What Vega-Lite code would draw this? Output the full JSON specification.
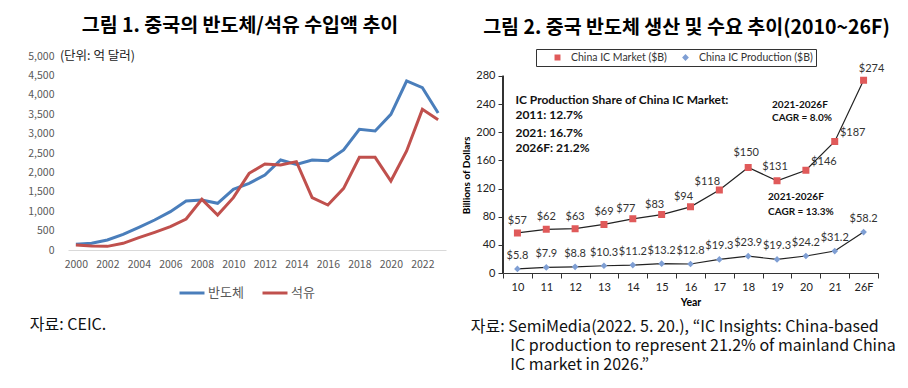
{
  "$schema": "https://vega.github.io/schema/vega-lite/v6.json",
  "background": "white",
  "padding": {"left": 27, "top": 15, "right": 5, "bottom": 5},
  "config": {"view": {"stroke": null}, "font": "Noto Sans CJK KR"},
  "resolve": {"scale": {"color": "independent", "shape": "independent"}, "legend": {"color": "independent", "shape": "independent"}},
  "datasets": {
    "imports": [
      {"year": 2000, "series": "반도체", "value": 146}, {"year": 2001, "series": "반도체", "value": 172},
      {"year": 2002, "series": "반도체", "value": 258}, {"year": 2003, "series": "반도체", "value": 404},
      {"year": 2004, "series": "반도체", "value": 584}, {"year": 2005, "series": "반도체", "value": 773},
      {"year": 2006, "series": "반도체", "value": 988}, {"year": 2007, "series": "반도체", "value": 1263},
      {"year": 2008, "series": "반도체", "value": 1289}, {"year": 2009, "series": "반도체", "value": 1203},
      {"year": 2010, "series": "반도체", "value": 1564}, {"year": 2011, "series": "반도체", "value": 1718},
      {"year": 2012, "series": "반도체", "value": 1933}, {"year": 2013, "series": "반도체", "value": 2320},
      {"year": 2014, "series": "반도체", "value": 2208}, {"year": 2015, "series": "반도체", "value": 2320},
      {"year": 2016, "series": "반도체", "value": 2302}, {"year": 2017, "series": "반도체", "value": 2577},
      {"year": 2018, "series": "반도체", "value": 3110}, {"year": 2019, "series": "반도체", "value": 3067},
      {"year": 2020, "series": "반도체", "value": 3497}, {"year": 2021, "series": "반도체", "value": 4356},
      {"year": 2022, "series": "반도체", "value": 4184}, {"year": 2023, "series": "반도체", "value": 3530},
      {"year": 2000, "series": "석유", "value": 129}, {"year": 2001, "series": "석유", "value": 103},
      {"year": 2002, "series": "석유", "value": 94}, {"year": 2003, "series": "석유", "value": 172},
      {"year": 2004, "series": "석유", "value": 318}, {"year": 2005, "series": "석유", "value": 455},
      {"year": 2006, "series": "석유", "value": 601}, {"year": 2007, "series": "석유", "value": 799},
      {"year": 2008, "series": "석유", "value": 1306}, {"year": 2009, "series": "석유", "value": 902},
      {"year": 2010, "series": "석유", "value": 1349}, {"year": 2011, "series": "석유", "value": 1976},
      {"year": 2012, "series": "석유", "value": 2216}, {"year": 2013, "series": "석유", "value": 2191},
      {"year": 2014, "series": "석유", "value": 2277}, {"year": 2015, "series": "석유", "value": 1349},
      {"year": 2016, "series": "석유", "value": 1160}, {"year": 2017, "series": "석유", "value": 1589},
      {"year": 2018, "series": "석유", "value": 2388}, {"year": 2019, "series": "석유", "value": 2388},
      {"year": 2020, "series": "석유", "value": 1778}, {"year": 2021, "series": "석유", "value": 2552},
      {"year": 2022, "series": "석유", "value": 3625}, {"year": 2023, "series": "석유", "value": 3360}
    ],
    "unit": [{"year": 2000, "value": 5000, "text": "(단위: 억 달러)"}],
    "ic": [
      {"year": "10", "series": "China IC Market ($B)", "value": 57, "label": "$57"},
      {"year": "11", "series": "China IC Market ($B)", "value": 62, "label": "$62"},
      {"year": "12", "series": "China IC Market ($B)", "value": 63, "label": "$63"},
      {"year": "13", "series": "China IC Market ($B)", "value": 69, "label": "$69"},
      {"year": "14", "series": "China IC Market ($B)", "value": 77, "label": "$77"},
      {"year": "15", "series": "China IC Market ($B)", "value": 83, "label": "$83"},
      {"year": "16", "series": "China IC Market ($B)", "value": 94, "label": "$94"},
      {"year": "17", "series": "China IC Market ($B)", "value": 118, "label": "$118"},
      {"year": "18", "series": "China IC Market ($B)", "value": 150, "label": "$150"},
      {"year": "19", "series": "China IC Market ($B)", "value": 131, "label": "$131"},
      {"year": "20", "series": "China IC Market ($B)", "value": 146, "label": "$146"},
      {"year": "21", "series": "China IC Market ($B)", "value": 187, "label": "$187"},
      {"year": "26F", "series": "China IC Market ($B)", "value": 274, "label": "$274"},
      {"year": "10", "series": "China IC Production ($B)", "value": 5.8, "label": "$5.8"},
      {"year": "11", "series": "China IC Production ($B)", "value": 7.9, "label": "$7.9"},
      {"year": "12", "series": "China IC Production ($B)", "value": 8.8, "label": "$8.8"},
      {"year": "13", "series": "China IC Production ($B)", "value": 10.3, "label": "$10.3"},
      {"year": "14", "series": "China IC Production ($B)", "value": 11.2, "label": "$11.2"},
      {"year": "15", "series": "China IC Production ($B)", "value": 13.2, "label": "$13.2"},
      {"year": "16", "series": "China IC Production ($B)", "value": 12.8, "label": "$12.8"},
      {"year": "17", "series": "China IC Production ($B)", "value": 19.3, "label": "$19.3"},
      {"year": "18", "series": "China IC Production ($B)", "value": 23.9, "label": "$23.9"},
      {"year": "19", "series": "China IC Production ($B)", "value": 19.3, "label": "$19.3"},
      {"year": "20", "series": "China IC Production ($B)", "value": 24.2, "label": "$24.2"},
      {"year": "21", "series": "China IC Production ($B)", "value": 31.2, "label": "$31.2"},
      {"year": "26F", "series": "China IC Production ($B)", "value": 58.2, "label": "$58.2"}
    ],
    "notes": [
      {"year": "10", "value": 246, "text": "IC Production Share of China IC Market:", "grp": "share"},
      {"year": "10", "value": 224, "text": "2011: 12.7%", "grp": "share"},
      {"year": "10", "value": 199.4, "text": "2021: 16.7%", "grp": "share"},
      {"year": "10", "value": 177.2, "text": "2026F: 21.2%", "grp": "share"},
      {"year": "19", "value": 238.3, "text": "2021-2026F", "grp": "c1"},
      {"year": "19", "value": 220.7, "text": "CAGR = 8.0%", "grp": "c1"},
      {"year": "19", "value": 108.4, "text": "2021-2026F", "grp": "c2"},
      {"year": "19", "value": 86.7, "text": "CAGR = 13.3%", "grp": "c2"}
    ]
  },
  "spacing": 15,
  "hconcat": [
    {
      "title": {"text": "자료: CEIC.", "orient": "bottom", "anchor": "start", "fontSize": 16, "fontWeight": "normal", "color": "#111", "offset": 17, "dx": 2},
      "vconcat": [
        {
          "title": {"text": "그림 1. 중국의 반도체/석유 수입액 추이", "fontSize": 19.5, "fontWeight": "bold", "color": "#000", "offset": 14, "dx": -17},
          "width": 378,
          "height": 194,
          "encoding": {
            "x": {"field": "year", "type": "quantitative", "scale": {"domain": [1999.5, 2023.5], "nice": false, "zero": false},
              "axis": {"values": [2000, 2002, 2004, 2006, 2008, 2010, 2012, 2014, 2016, 2018, 2020, 2022], "format": "d", "labelOverlap": false, "title": null, "grid": false, "ticks": false, "domainColor": "#d9d9d9", "labelColor": "#595959", "labelFontSize": 10.5, "labelPadding": 9, "labelFlush": false}},
            "y": {"field": "value", "type": "quantitative", "scale": {"domain": [0, 5000], "nice": false},
              "axis": {"values": [0, 500, 1000, 1500, 2000, 2500, 3000, 3500, 4000, 4500, 5000], "format": ",.0f", "labelOverlap": false, "title": null, "grid": false, "ticks": false, "domain": false, "labelColor": "#595959", "labelFontSize": 10.5, "labelPadding": 14}}
          },
          "layer": [
            {
              "data": {"name": "imports"},
              "mark": {"type": "line", "strokeWidth": 3},
              "encoding": {
                "color": {"field": "series", "type": "nominal", "scale": {"domain": ["반도체", "석유"], "range": ["#4a7ebb", "#c0504d"]},
                  "legend": {"title": null, "orient": "none", "legendX": 110, "legendY": 223, "direction": "horizontal", "symbolType": "stroke", "symbolSize": 625, "symbolStrokeWidth": 3, "labelFontSize": 13, "labelColor": "#595959", "columnPadding": 12, "labelOffset": 2}}
              }
            },
            {
              "data": {"name": "unit"},
              "mark": {"type": "text", "align": "left", "dx": -16, "fontSize": 12.5, "color": "#222"},
              "encoding": {"text": {"field": "text"}}
            }
          ]
        }
      ]
    },
    {
      "title": {"text": ["자료: SemiMedia(2022. 5. 20.), “IC Insights: China-based", "\u200b\u00a0\u00a0\u00a0\u00a0\u00a0\u00a0\u00a0\u00a0\u00a0\u00a0\u00a0IC production to represent 21.2% of mainland China", "\u200b\u00a0\u00a0\u00a0\u00a0\u00a0\u00a0\u00a0\u00a0\u00a0\u00a0\u00a0IC market in 2026.”"], "orient": "bottom", "anchor": "start", "fontSize": 16, "lineHeight": 19, "fontWeight": "normal", "color": "#111", "offset": 11, "dx": 9},
      "vconcat": [
        {
          "title": {"text": "그림 2. 중국 반도체 생산 및 수요 추이(2010~26F)", "fontSize": 19.5, "fontWeight": "bold", "color": "#000", "offset": 18, "dx": -4},
          "width": 375,
          "height": 217,
          "data": {"name": "ic"},
          "encoding": {
            "x": {"field": "year", "type": "ordinal", "sort": null, "scale": {"paddingInner": 0, "paddingOuter": 0},
              "axis": {"title": "Year", "titleFont": "Lato", "titleFontSize": 10.5, "titleFontWeight": "bold", "titleColor": "#000", "titlePadding": 5, "labelAngle": 0, "labelFont": "Lato", "labelFontSize": 11, "labelColor": "#222", "tickBand": "extent", "tickSize": 5, "tickColor": "#333", "domainColor": "#333", "labelPadding": 3, "grid": false}},
            "y": {"field": "value", "type": "quantitative", "scale": {"domain": [0, 308.4], "nice": false},
              "axis": {"title": "Billions of Dollars", "titleFont": "Lato", "titleFontSize": 10, "titleFontWeight": "bold", "titleColor": "#000", "titlePadding": 4, "titleY": 119, "values": [0, 40, 80, 120, 160, 200, 240, 280], "labelFont": "Lato", "labelFontSize": 11, "labelColor": "#222", "tickSize": 5, "tickColor": "#333", "domain": false, "labelPadding": 3, "grid": false}}
          },
          "layer": [
            {
              "mark": {"type": "rule", "color": "#333", "strokeWidth": 1},
              "encoding": {
                "x": {"datum": "10", "type": "ordinal", "bandPosition": 0},
                "y": {"datum": 0, "type": "quantitative"},
                "y2": {"datum": 280}
              }
            },
            {
              "mark": {"type": "line", "color": "#222", "strokeWidth": 1.2},
              "encoding": {"detail": {"field": "series"}}
            },
            {
              "transform": [{"filter": {"field": "series", "equal": "China IC Market ($B)"}}],
              "mark": {"type": "point", "filled": true, "opacity": 1, "size": 400},
              "encoding": {
                "color": {"field": "series", "type": "nominal", "scale": {"domain": ["China IC Market ($B)", "China IC Production ($B)"], "range": ["#e05a5a", "#7f9fd4"]},
                  "legend": {"title": null, "orient": "none", "legendX": 33, "legendY": -7, "direction": "horizontal", "strokeColor": "#333", "padding": 3, "symbolSize": 289, "symbolOffset": 9, "labelFont": "Lato", "labelFontSize": 10.5, "labelColor": "#333", "labelOffset": 4, "columnPadding": 0, "clipHeight": 11,
                    "encode": {"symbols": {"update": {"stroke": {"value": "#444"}, "strokeWidth": {"value": 1}}}}}},
                "shape": {"field": "series", "type": "nominal", "scale": {"domain": ["China IC Market ($B)", "China IC Production ($B)"], "range": ["M-1,0H1M-0.35,-0.35H0.35V0.35H-0.35Z", "M-1,0H1M0,-0.4L0.4,0L0,0.4L-0.4,0Z"]}, "legend": null}
              }
            },
            {
              "transform": [{"filter": {"field": "series", "equal": "China IC Production ($B)"}}],
              "mark": {"type": "point", "filled": true, "opacity": 1, "size": 280},
              "encoding": {
                "color": {"field": "series", "type": "nominal"},
                "shape": {"field": "series", "type": "nominal", "legend": null}
              }
            },
            {
              "transform": [{"filter": {"and": [{"field": "series", "equal": "China IC Market ($B)"}, {"field": "year", "oneOf": ["10", "11", "12", "13"]}]}}],
              "mark": {"type": "text", "dy": -12, "font": "Lato", "fontSize": 11, "color": "#333"},
              "encoding": {"text": {"field": "label"}}
            },
            {
              "transform": [{"filter": {"and": [{"field": "series", "equal": "China IC Market ($B)"}, {"field": "year", "oneOf": ["14", "15", "16"]}]}}],
              "mark": {"type": "text", "dy": -10, "dx": -7, "font": "Lato", "fontSize": 11, "color": "#333"},
              "encoding": {"text": {"field": "label"}}
            },
            {
              "transform": [{"filter": {"and": [{"field": "series", "equal": "China IC Market ($B)"}, {"field": "year", "oneOf": ["17"]}]}}],
              "mark": {"type": "text", "dy": -8, "dx": -12, "font": "Lato", "fontSize": 11, "color": "#333"},
              "encoding": {"text": {"field": "label"}}
            },
            {
              "transform": [{"filter": {"and": [{"field": "series", "equal": "China IC Market ($B)"}, {"field": "year", "oneOf": ["18", "19"]}]}}],
              "mark": {"type": "text", "dy": -14, "dx": -2, "font": "Lato", "fontSize": 11, "color": "#333"},
              "encoding": {"text": {"field": "label"}}
            },
            {
              "transform": [{"filter": {"and": [{"field": "series", "equal": "China IC Market ($B)"}, {"field": "year", "oneOf": ["20", "21"]}]}}],
              "mark": {"type": "text", "dy": -8, "dx": 18, "font": "Lato", "fontSize": 11, "color": "#333"},
              "encoding": {"text": {"field": "label"}}
            },
            {
              "transform": [{"filter": {"and": [{"field": "series", "equal": "China IC Market ($B)"}, {"field": "year", "oneOf": ["26F"]}]}}],
              "mark": {"type": "text", "dy": -11, "dx": 8, "font": "Lato", "fontSize": 11, "color": "#333"},
              "encoding": {"text": {"field": "label"}}
            },
            {
              "transform": [{"filter": {"field": "series", "equal": "China IC Production ($B)"}}],
              "mark": {"type": "text", "dy": -13, "font": "Lato", "fontSize": 11, "color": "#333"},
              "encoding": {"text": {"field": "label"}}
            },
            {
              "data": {"name": "notes"},
              "transform": [{"filter": {"field": "grp", "equal": "share"}}],
              "mark": {"type": "text", "align": "left", "dx": -2, "font": "Lato", "fontSize": 12, "fontWeight": "bold", "color": "#111"},
              "encoding": {"text": {"field": "text"}}
            },
            {
              "data": {"name": "notes"},
              "transform": [{"filter": {"field": "grp", "equal": "c1"}}],
              "mark": {"type": "text", "align": "left", "dx": -5, "font": "Lato", "fontSize": 10, "fontWeight": "bold", "color": "#111"},
              "encoding": {"text": {"field": "text"}}
            },
            {
              "data": {"name": "notes"},
              "transform": [{"filter": {"field": "grp", "equal": "c2"}}],
              "mark": {"type": "text", "align": "left", "dx": -9, "font": "Lato", "fontSize": 10, "fontWeight": "bold", "color": "#111"},
              "encoding": {"text": {"field": "text"}}
            }
          ]
        }
      ]
    }
  ]
}
